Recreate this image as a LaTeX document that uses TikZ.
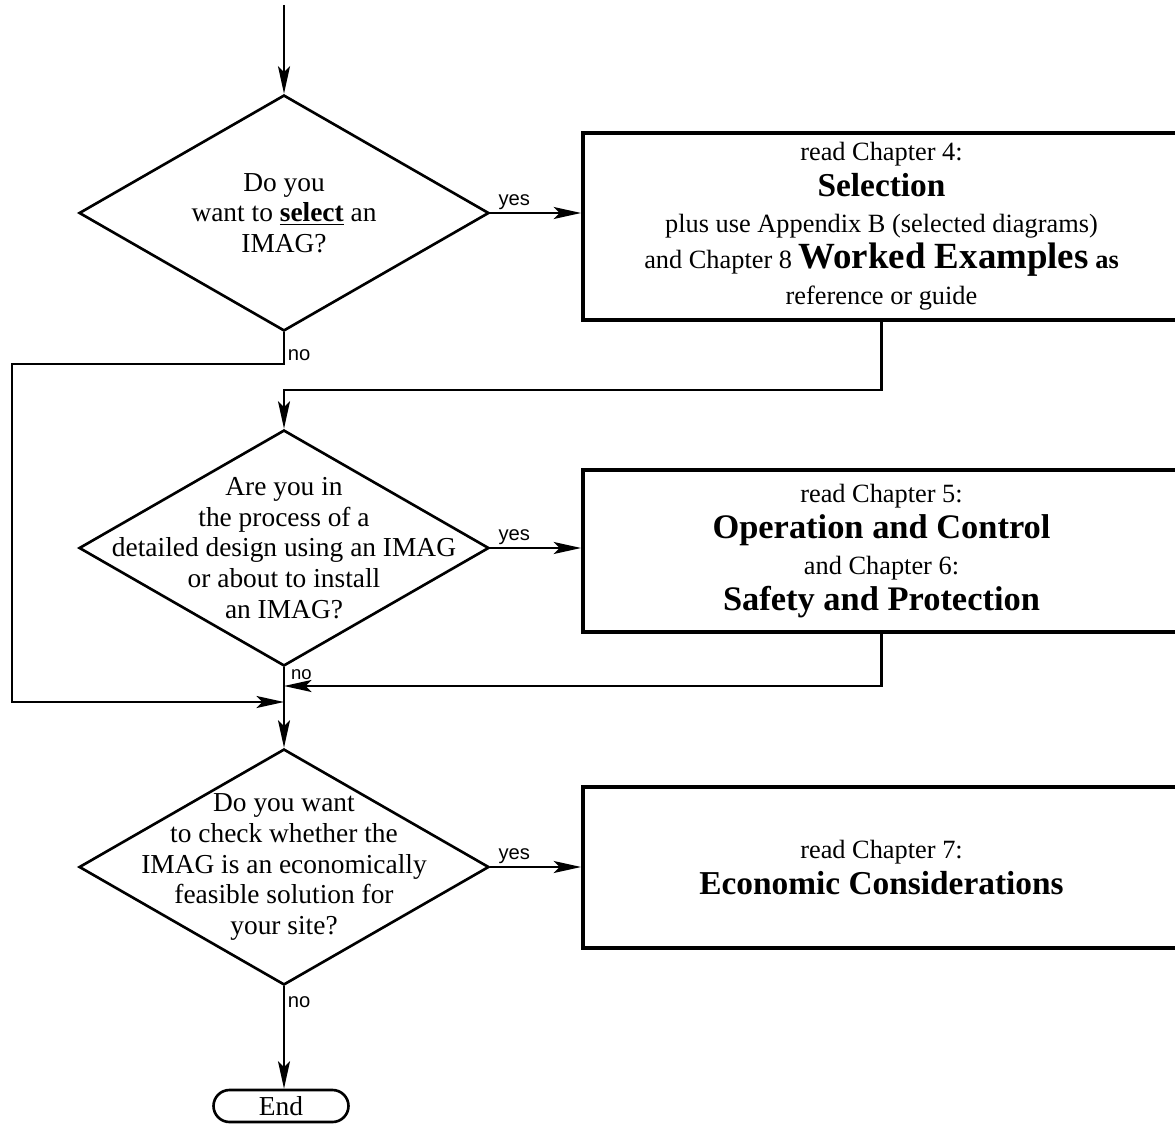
\documentclass[tikz,border=0pt]{standalone}
\usepackage{fontspec}
\setmainfont{Liberation Serif}
\newfontfamily\labelfont{Liberation Sans}
\usetikzlibrary{shapes.geometric, shapes.misc, arrows.meta, positioning}

\begin{document}
\begin{tikzpicture}[
    x=0.02cm, y=-0.02cm,
    decision/.style={diamond, draw=black, line width=1.5pt, minimum width=8.2cm, minimum height=4.72cm, inner sep=0pt},
    qtext/.style={align=center, font=\fontsize{15.6}{17.4}\selectfont, inner sep=0pt},
    process/.style={rectangle, draw=black, line width=2.2pt, minimum width=11.94cm, align=center, font=\fontsize{15}{20.5}\selectfont},
    terminal/.style={rounded rectangle, draw=black, line width=1.5pt, minimum width=2.7cm, minimum height=0.64cm, inner sep=0pt, font=\fontsize{15.6}{17}\selectfont},
    lbl/.style={font=\labelfont\fontsize{11.5}{13}\selectfont, inner sep=1.5pt},
    arrow/.style={-{Stealth[length=5.5mm, width=2.4mm, inset=1.2mm]}, line width=1.3pt}
]
\useasboundingbox (0,0) rectangle (1175,1131);
\clip (0,0) rectangle (1175,1131);

\node[decision, label={[qtext]center:{Do you\\want to \underline{\textbf{select}} an\\IMAG?}}] (d1) at (284,213) {};
\node[decision, label={[qtext]center:{Are you in\\the process of a\\detailed design using an IMAG\\or about to install\\an IMAG?}}] (d2) at (284,548) {};
\node[decision, label={[qtext]center:{Do you want\\to check whether the\\IMAG is an economically\\feasible solution for\\your site?}}] (d3) at (284,867) {};
\node[terminal] (end) at (281,1106) {End};

\node[process, minimum height=3.74cm] (box1) at (881.5,226.5) {read Chapter 4:\\
    {\bfseries\fontsize{19}{20.5}\selectfont Selection}\\
    plus use Appendix B (selected diagrams)\\
    and Chapter 8 {\bfseries\fontsize{21}{20.5}\selectfont Worked Examples} {\bfseries as}\\
    reference or guide};
\node[process, minimum height=3.24cm] (box2) at (881.5,551) {read Chapter 5:\\
    {\bfseries\fontsize{19.6}{20.5}\selectfont Operation and Control}\\
    and Chapter 6:\\
    {\bfseries\fontsize{19.6}{20.5}\selectfont Safety and Protection}};
\node[process, minimum height=3.22cm] (box3) at (881.5,867.5) {read Chapter 7:\\
    {\bfseries\fontsize{19}{20.5}\selectfont Economic Considerations}};

\coordinate (top) at (284,5);
\coordinate (merge) at (284,702);
\coordinate (rejoin) at (284,686);

\draw[arrow] (top) -- (d1.north);
\draw[arrow] (d1.east) -- node[lbl, pos=0.05, anchor=south west] {yes} (d1.east -| box1.west);
\draw[arrow] (d1.south) -- ++(0,32) node[lbl, anchor=south west] {no} -| (12,702) -- (merge);
\draw[arrow] (box1.south) -- ++(0,68) -| (d2.north);
\draw[arrow] (d2.east) -- node[lbl, pos=0.05, anchor=south west] {yes} (d2.east -| box2.west);
\draw[arrow] (box2.south) |- (rejoin);
\draw[arrow] (d2.south) -- node[lbl, at start, anchor=north west, inner sep=0.5pt, xshift=0.1cm, font=\labelfont\fontsize{10.5}{12}\selectfont] {no} (d3.north);
\draw[arrow] (d3.east) -- node[lbl, pos=0.05, anchor=south west] {yes} (d3.east -| box3.west);
\draw[arrow] (d3.south) -- node[lbl, pos=0.15, anchor=west] {no} (d3.south |- end.north);

\end{tikzpicture}
\end{document}
